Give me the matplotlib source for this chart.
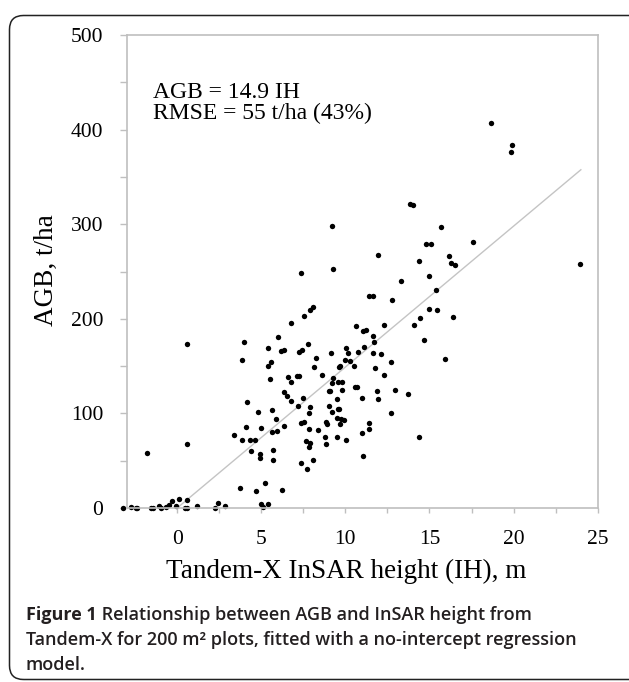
import numpy as np
import matplotlib
matplotlib.use("Agg")
from matplotlib import pyplot as plt
from matplotlib.patches import FancyBboxPatch

# plot data: Tandem-X InSAR height (m) vs AGB (t/ha)
ih = [
    -3.2, -2.77, -2.47, -2.37, -1.82, -1.58, -1.42, -1.09, -0.95, -0.69,
    -0.49, -0.30, -0.06, 0.12, 0.57, 0.57, 0.57, 0.47, 0.61, 1.19,
    2.27, 2.41, 2.87, 3.36, 3.75, 3.85, 3.95, 4.15, 4.11, 3.85,
    4.31, 4.6, 4.41, 4.68, 4.82, 4.94, 4.94, 4.96, 5.0, 5.1,
    5.41, 5.24, 5.41, 5.43, 5.53, 5.59, 5.63, 5.63, 5.69, 5.69,
    5.87, 5.95, 5.99, 6.17, 6.36, 6.21, 6.34, 6.36, 6.54, 6.58,
    6.74, 6.78, 6.74, 7.15, 7.25, 7.21, 7.27, 7.43, 7.35, 7.37,
    7.51, 7.53, 7.57, 7.65, 7.73, 7.77, 7.85, 7.9, 7.81, 7.9,
    7.85, 7.9, 8.1, 8.08, 8.16, 8.26, 8.4, 8.62, 8.81, 8.83,
    8.85, 8.89, 9.0, 9.09, 9.0, 9.13, 9.19, 9.29, 9.19, 9.49,
    9.49, 9.74, 9.55, 9.64, 9.59, 9.82, 9.64, 9.7, 9.68, 9.82,
    9.9, 9.49, 10.04, 10.04, 10.18, 10.0, 10.28, 10.53, 10.61, 10.57,
    10.71, 10.77, 7.37,
    18.68, 19.92, 19.86, 13.87, 14.01, 9.19, 15.71, 14.82, 15.12, 17.59,
    11.96, 14.37, 16.17, 16.3, 16.5, 23.97, 9.29, 13.3, 14.96, 15.38,
    11.42, 11.62, 12.75, 11.07, 11.23, 12.29, 14.07, 14.43, 14.96, 15.45,
    16.37, 11.62, 11.72, 11.12, 11.66, 12.09, 12.71, 11.76, 14.7, 15.93,
    12.29, 11.01, 11.9, 11.96, 12.96, 13.73, 12.69, 11.38, 11.38,
    10.99, 14.37, 11.03,
]
agb = [
    0, 1, 0.5, 0.5, 58, 0, 0, 2, 0, 1,
    3, 7, 2, 10, 173, 68, 8, 0.5, 0.5, 2.5,
    0.5, 5, 2.5, 77.5, 21.5, 157, 175, 112, 86, 71.5,
    72, 72, 60, 18, 102, 57, 52.5, 85, 4, 1.5,
    4, 26.5, 169, 150, 136, 154, 104, 80, 61, 51,
    94, 81, 181, 166, 167, 19, 87, 123, 118, 139,
    196, 133, 113.5, 140, 139.5, 108, 165, 167, 90, 47.5,
    116.5, 91, 202.5, 71, 41, 173, 100, 107, 84, 69,
    64.5, 209, 212, 51, 149, 159, 82, 141, 75, 68,
    90.5, 89, 124, 123.5, 108, 164, 132.5, 137.5, 102, 115,
    95, 94, 105, 105, 133.5, 133, 149.5, 150, 89, 124.5,
    93, 75.5, 72, 169, 163.5, 157, 155.5, 150.5, 192.5, 128,
    128, 164.5, 248.5,
    406.5, 384, 376, 321, 320, 298.5, 297, 279.5, 279.5, 281,
    267.5, 261, 266.5, 258.5, 257, 257.5, 253, 240.5, 245, 230,
    224, 224.5, 220, 187.5, 188, 194, 193, 201, 210.5, 209.5,
    202, 182, 175.5, 170, 164, 163, 154.5, 147.5, 177.5, 158,
    140.5, 116.5, 123.5, 115, 124.5, 121, 100, 90, 84,
    79, 75, 55,
]

slope = 14.9
fit_x = [0, 24]

serif = "Liberation Serif"
sans = "Open Sans"
grey = "#bfbfbf"
ink = "#231f20"

fig = plt.figure(figsize=(6.29, 6.82), dpi=100)
ax = fig.add_axes([0.2014, 0.2551, 0.7488, 0.6935])

ax.plot(fit_x, [slope * v for v in fit_x], color="#c4c4c4", lw=1.0, zorder=1)
ax.scatter(ih, agb, s=15, color="black", linewidths=0, zorder=2, clip_on=False)

ax.set_xlim(-3, 25)
ax.set_ylim(0, 500)
ax.set_xticks(np.arange(0, 26, 5))
ax.set_xticks(np.arange(0, 25.1, 2.5), minor=True)
ax.set_yticks(np.arange(0, 501, 100))
ax.set_yticks(np.arange(0, 501, 50), minor=True)

for s in ax.spines.values():
    s.set_color(grey)
    s.set_linewidth(1.2)

ax.tick_params(axis="y", which="both", direction="out", length=5, width=1,
               color=grey, pad=12)
ax.tick_params(axis="x", which="both", direction="out", length=3.5, width=1,
               color=grey, pad=12)
for lab in ax.get_xticklabels() + ax.get_yticklabels():
    lab.set_fontfamily(serif)
    lab.set_fontsize(15.5)

ax.text(-1.46, 433, "AGB = 14.9 IH", family=serif, fontsize=17, va="baseline")
ax.text(-1.46, 411, "RMSE = 55 t/ha (43%)", family=serif, fontsize=17,
        va="baseline")

fig.text(346 / 629, 1 - 571 / 682, "Tandem-X InSAR height (IH), m",
         family=serif, fontsize=19.5, ha="center", va="center")
fig.text(46 / 629, 1 - 270 / 682, "AGB, t/ha", family=serif, fontsize=19.5,
         rotation=90, ha="center", va="center")

# caption
cap_size = 13
t1 = fig.text(26 / 629, 1 - 620 / 682, "Figure 1", family=sans,
              fontsize=cap_size, weight="bold", va="baseline", color=ink)
ax.annotate(" Relationship between AGB and InSAR height from", xy=(1, 0),
            xycoords=t1, va="bottom", ha="left", family=sans,
            fontsize=cap_size, weight="semibold", color=ink,
            annotation_clip=False)
fig.text(26 / 629, 1 - 645 / 682,
         "Tandem-X for 200 m\u00b2 plots, fitted with a no-intercept regression",
         family=sans, fontsize=cap_size, weight="semibold", va="baseline",
         color=ink)
fig.text(26 / 629, 1 - 670 / 682, "model.", family=sans, fontsize=cap_size,
         weight="semibold", va="baseline", color=ink)

box = FancyBboxPatch((0.095, 0.025), 6.35, 6.64,
                     boxstyle="round,pad=0,rounding_size=0.14",
                     transform=fig.dpi_scale_trans, fill=False,
                     edgecolor="#222222", lw=1.1, clip_on=False)
fig.patches.append(box)

fig.savefig("out.png", dpi=100)
